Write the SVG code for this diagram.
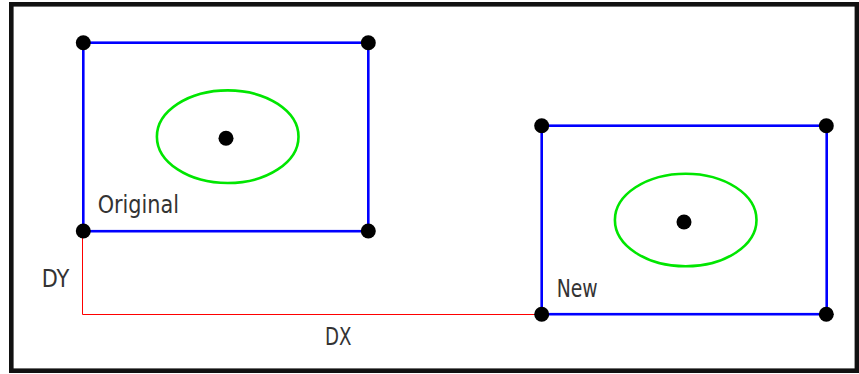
<svg xmlns="http://www.w3.org/2000/svg" width="859" height="374" viewBox="0 0 859 374">
<style>
.frame{fill:#fff;stroke:#111;stroke-width:4.6}
.box{fill:none;stroke:#0000ff;stroke-width:2.6}
.ell{fill:none;stroke:#00e600;stroke-width:2.6}
.dot{fill:#000}
.conn{fill:none;stroke:#ff0000;stroke-width:1}
.lbl{font-family:"Liberation Sans Narrow","DejaVu Sans Condensed","Liberation Sans",sans-serif;font-size:25px;fill:#333}
</style>
<rect class="frame" x="11.3" y="4.3" width="845.6" height="366.4"/>
<g id="connectors">
<polyline class="conn" points="82.5,231 82.5,314.5 541.5,314.5"/>
<text class="lbl" x="41.7" y="286.7" textLength="27.6" lengthAdjust="spacingAndGlyphs">DY</text>
<text class="lbl" x="325" y="344.7" textLength="26.5" lengthAdjust="spacingAndGlyphs">DX</text>
</g>
<g id="original">
<rect class="box" x="83.3" y="42.7" width="285" height="188.5"/>
<ellipse class="ell" cx="227.7" cy="136.7" rx="70.8" ry="46.3"/>
<circle class="dot" cx="226" cy="138.3" r="7.5"/>
<circle class="dot" cx="83.3" cy="42.7" r="7.5"/>
<circle class="dot" cx="368.3" cy="42.7" r="7.5"/>
<circle class="dot" cx="83.3" cy="231" r="7.5"/>
<circle class="dot" cx="368.3" cy="231" r="7.5"/>
<text class="lbl" x="97.7" y="213.3" textLength="81.3" lengthAdjust="spacingAndGlyphs">Original</text>
</g>
<g id="new">
<rect class="box" x="541.7" y="125.7" width="285" height="188.5"/>
<ellipse class="ell" cx="685.7" cy="220" rx="70.8" ry="46.3"/>
<circle class="dot" cx="684" cy="222" r="7.5"/>
<circle class="dot" cx="541.7" cy="125.7" r="7.5"/>
<circle class="dot" cx="826.3" cy="125.7" r="7.5"/>
<circle class="dot" cx="541.7" cy="314.3" r="7.5"/>
<circle class="dot" cx="826.3" cy="314.3" r="7.5"/>
<text class="lbl" x="556.7" y="296.7" textLength="41" lengthAdjust="spacingAndGlyphs">New</text>
</g>
</svg>
